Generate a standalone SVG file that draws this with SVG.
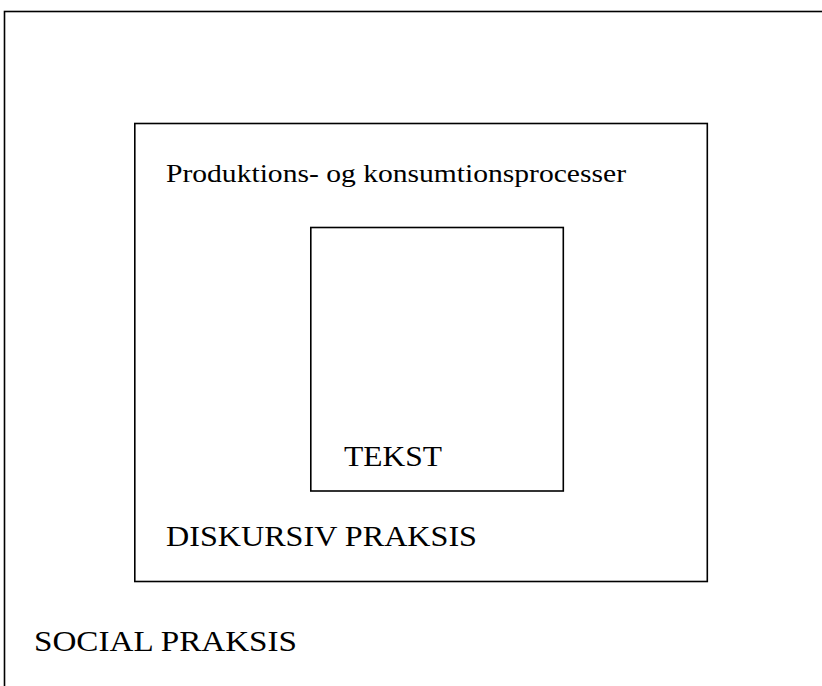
<svg xmlns="http://www.w3.org/2000/svg" width="822" height="686" viewBox="0 0 822 686">
<style>
.box{fill:none;stroke:#000;stroke-width:1.6}
.lbl{font-family:"Liberation Serif","Times New Roman",serif;fill:#000}
</style>
<rect width="822" height="686" fill="#fff"/>
<g id="social-praksis">
<rect class="box" x="4.5" y="11.5" width="840" height="700"/>
<text class="lbl" x="34" y="651" font-size="30" textLength="263" lengthAdjust="spacingAndGlyphs">SOCIAL PRAKSIS</text>
</g>
<g id="diskursiv-praksis">
<rect class="box" x="134.8" y="123.5" width="572.5" height="458"/>
<text class="lbl" x="166" y="182" font-size="25.5" textLength="460" lengthAdjust="spacingAndGlyphs">Produktions- og konsumtionsprocesser</text>
<text class="lbl" x="166" y="546" font-size="30" textLength="311" lengthAdjust="spacingAndGlyphs">DISKURSIV PRAKSIS</text>
</g>
<g id="tekst">
<rect class="box" x="310.8" y="227.5" width="252.5" height="263.5"/>
<text class="lbl" x="344" y="466" font-size="30" textLength="98" lengthAdjust="spacingAndGlyphs">TEKST</text>
</g>
<g id="connectors"></g>
</svg>
